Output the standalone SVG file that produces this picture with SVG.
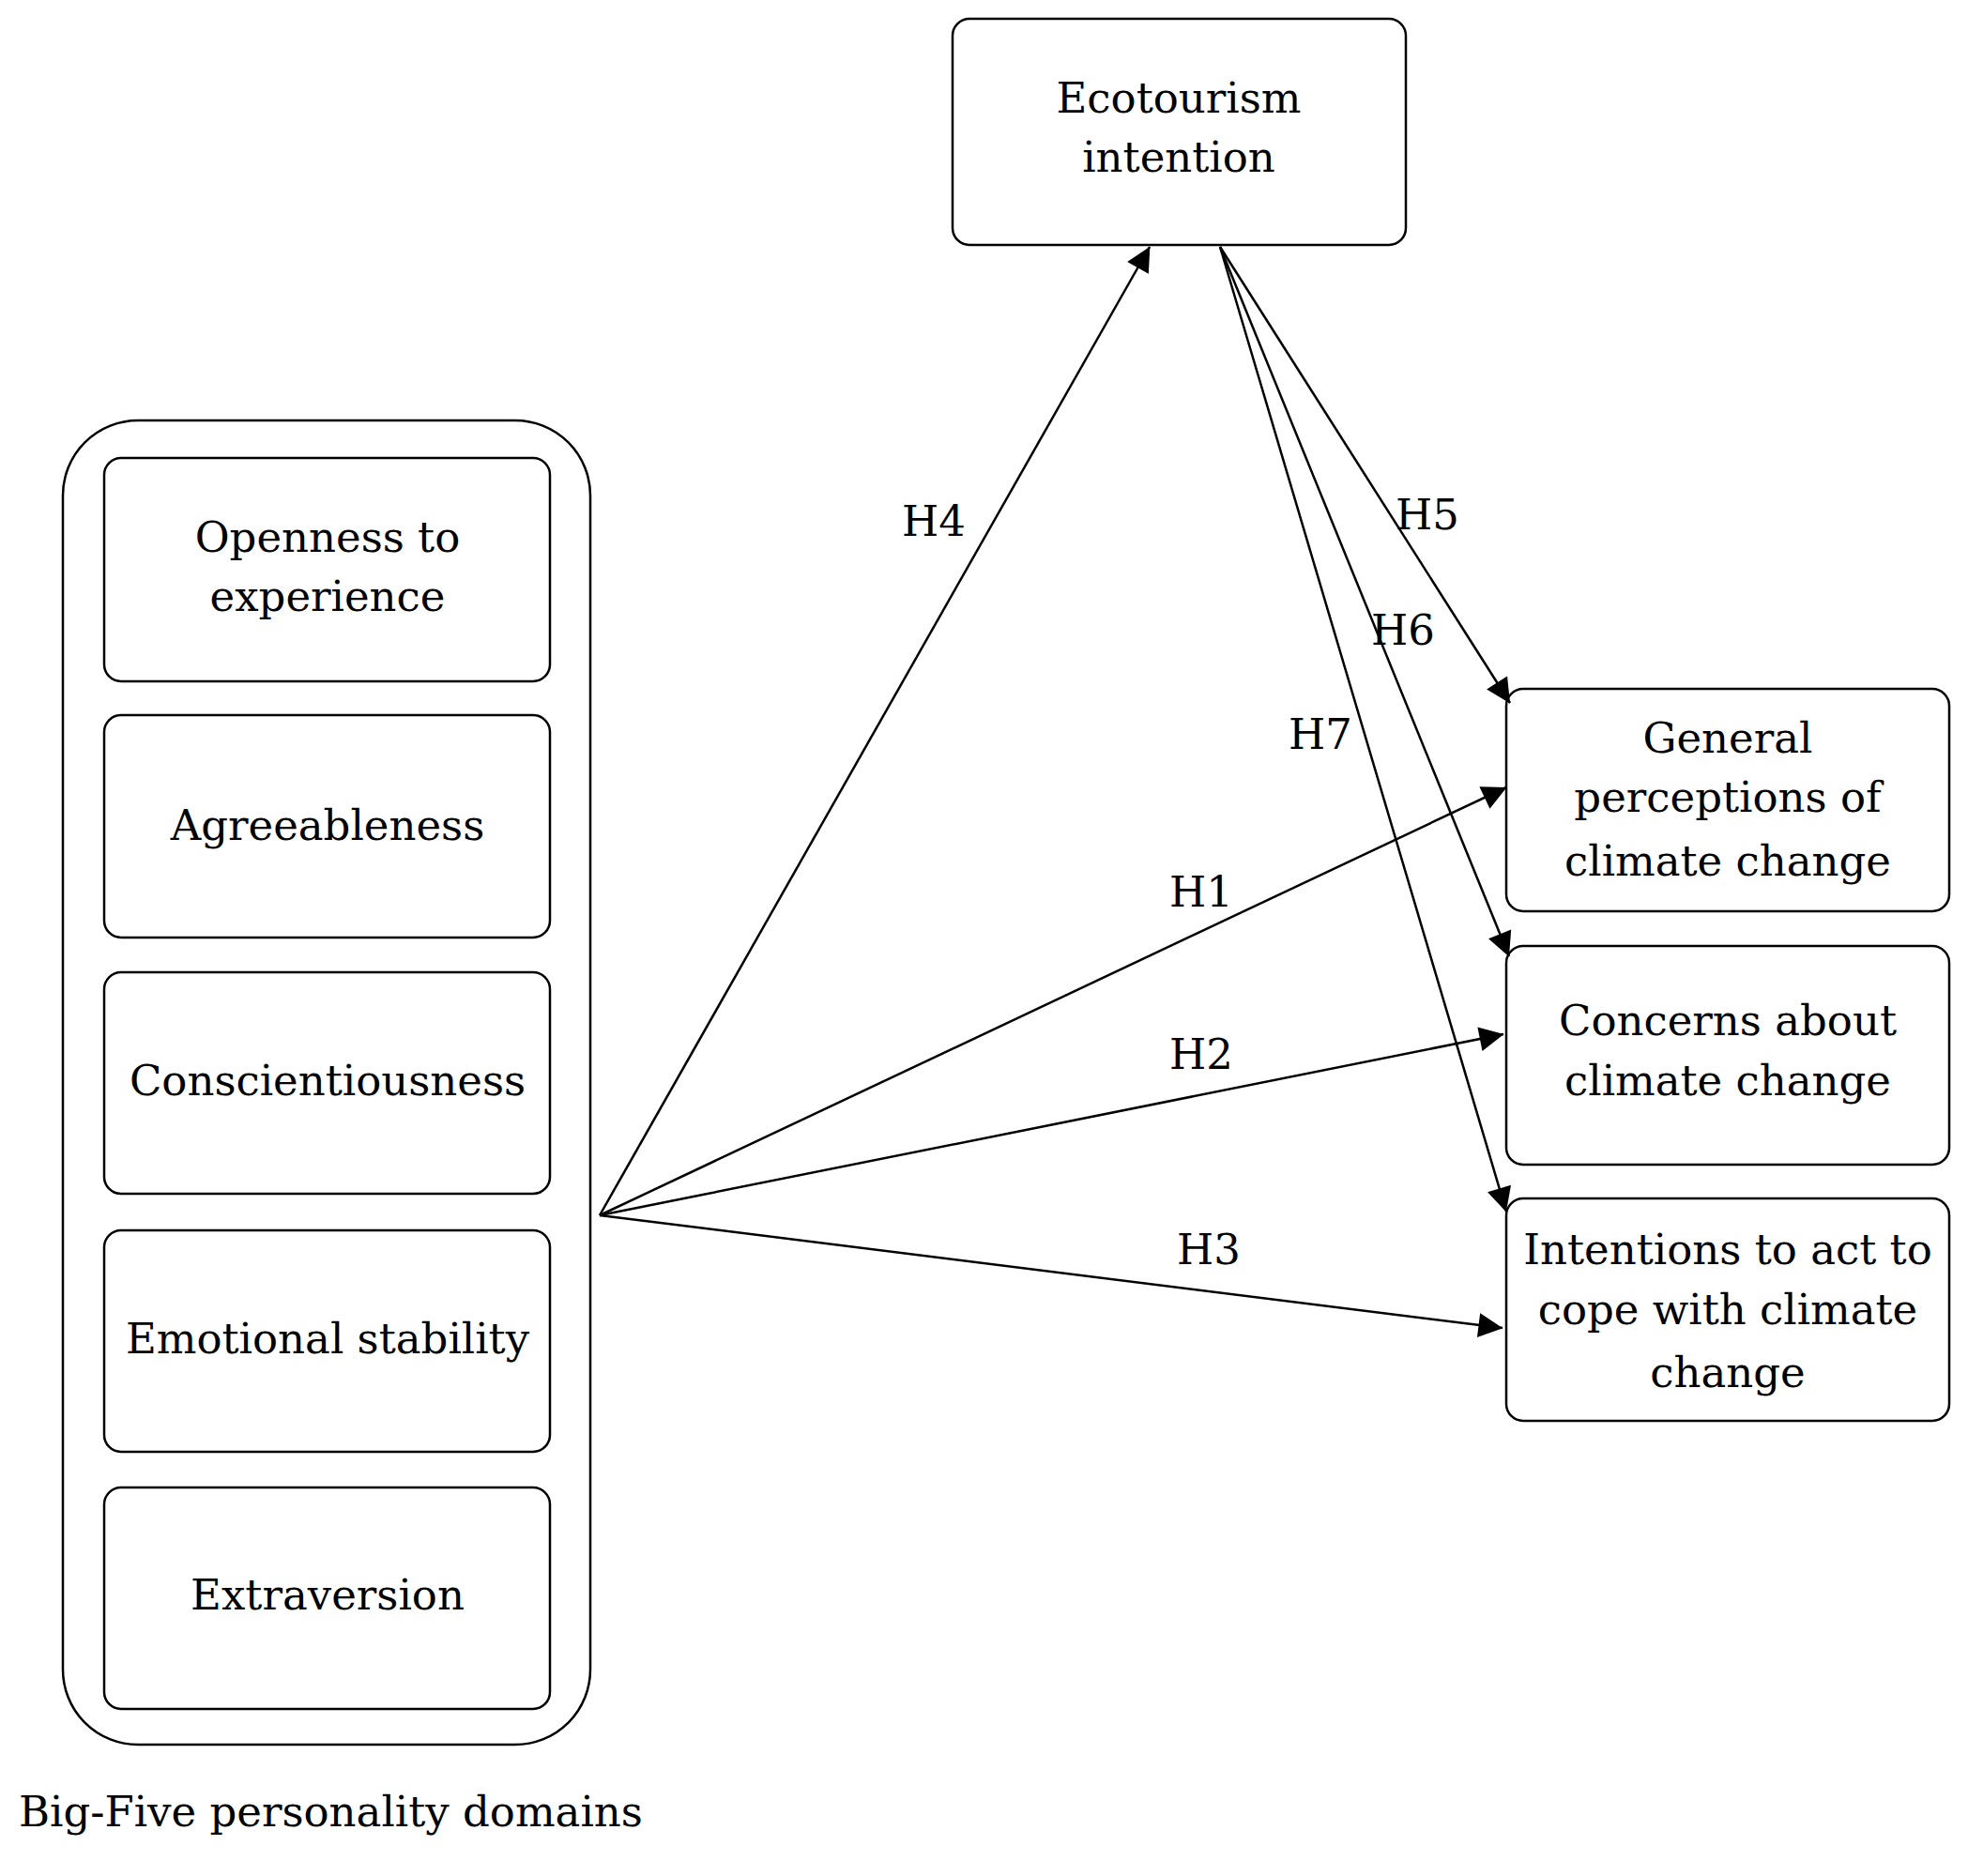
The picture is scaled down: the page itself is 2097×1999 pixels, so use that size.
<svg xmlns="http://www.w3.org/2000/svg" width="2097" height="1999" viewBox="0 0 2097 1999">
<style>
.b{fill:#fff;stroke:#000;stroke-width:2.5}
.t{font-family:"DejaVu Serif","Liberation Serif",serif;font-size:45px;text-anchor:middle;dominant-baseline:central;fill:#000}
.l{font-family:"DejaVu Serif","Liberation Serif",serif;font-size:45px;text-anchor:middle;dominant-baseline:central;fill:#000}
.c{stroke:#000;stroke-width:2.5;fill:none;marker-end:url(#a)}
</style>
<defs><marker id="a" viewBox="0 0 10 10" refX="10" refY="5" markerWidth="10" markerHeight="10" markerUnits="userSpaceOnUse" orient="auto" style="overflow:visible"><path d="M0,0 L10,5 L0,10 z" transform="scale(2.6) translate(-6,-3)" fill="#000"/></marker></defs>
<rect width="2097" height="1999" fill="#fff"/>
<g id="group"><rect class="b" x="67" y="448" width="562" height="1411" rx="80"/></g>
<g id="openness"><rect class="b" x="111" y="488" width="475" height="238" rx="18"/><text class="t" x="349" y="572">Openness to</text><text class="t" x="349" y="635">experience</text></g>
<g id="agree"><rect class="b" x="111" y="762" width="475" height="237" rx="18"/><text class="t" x="349" y="879">Agreeableness</text></g>
<g id="consc"><rect class="b" x="111" y="1036" width="475" height="236" rx="18"/><text class="t" x="349" y="1151">Conscientiousness</text></g>
<g id="emo"><rect class="b" x="111" y="1311" width="475" height="236" rx="18"/><text class="t" x="349" y="1426">Emotional stability</text></g>
<g id="extra"><rect class="b" x="111" y="1585" width="475" height="236" rx="18"/><text class="t" x="349" y="1699">Extraversion</text></g>
<g id="caption"><text x="20" y="1930" style="font-family:'DejaVu Serif','Liberation Serif',serif;font-size:45px;dominant-baseline:central">Big-Five personality domains</text></g>
<g id="eco"><rect class="b" x="1015" y="20" width="483" height="241" rx="18"/><text class="t" x="1256" y="104">Ecotourism</text><text class="t" x="1256" y="167">intention</text></g>
<g id="gen"><rect class="b" x="1605" y="734" width="472" height="237" rx="18"/><text class="t" x="1841" y="786">General</text><text class="t" x="1841" y="849">perceptions of</text><text class="t" x="1841" y="917">climate change</text></g>
<g id="conc"><rect class="b" x="1605" y="1008" width="472" height="233" rx="18"/><text class="t" x="1841" y="1087">Concerns about</text><text class="t" x="1841" y="1151">climate change</text></g>
<g id="int"><rect class="b" x="1605" y="1277" width="472" height="237" rx="18"/><text class="t" x="1841" y="1331">Intentions to act to</text><text class="t" x="1841" y="1395">cope with climate</text><text class="t" x="1841" y="1462">change</text></g>
<g id="connectors">
<line class="c" x1="639" y1="1295" x2="1225" y2="263"/>
<line class="c" x1="639" y1="1295" x2="1605" y2="839"/>
<line class="c" x1="639" y1="1295" x2="1602" y2="1102"/>
<line class="c" x1="639" y1="1295" x2="1601" y2="1415"/>
<line class="c" x1="1300" y1="263" x2="1609" y2="749"/>
<line class="c" x1="1300" y1="263" x2="1608" y2="1019"/>
<line class="c" x1="1300" y1="263" x2="1605" y2="1291"/>
<text class="l" x="995" y="555">H4</text>
<text class="l" x="1521" y="548">H5</text>
<text class="l" x="1495" y="671">H6</text>
<text class="l" x="1407" y="782">H7</text>
<text class="l" x="1280" y="950">H1</text>
<text class="l" x="1280" y="1123">H2</text>
<text class="l" x="1288" y="1331">H3</text>
</g>
</svg>
